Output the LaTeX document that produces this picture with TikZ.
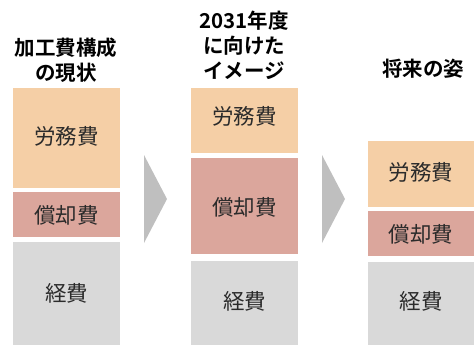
\documentclass[tikz,border=0pt]{standalone}
\usepackage{fontspec}
\newfontfamily\jp{Noto Sans CJK JP}
\newfontfamily\jpb{Noto Sans CJK JP Bold}
\definecolor{labor}{HTML}{F5CFA6}
\definecolor{depr}{HTML}{DBA69C}
\definecolor{misc}{HTML}{D9D9D9}
\definecolor{arrowgray}{HTML}{BFBFBF}
\definecolor{txt}{HTML}{2B2B2B}
\begin{document}
\begin{tikzpicture}[x=1pt,y=-1pt,
  seg/.style={inner sep=0pt, text=txt, font=\jp\fontsize{21.5}{24}\selectfont},
  ttl/.style={align=center, text=black, font=\jpb\fontsize{20.5}{25}\selectfont},
  chev/.style={fill=arrowgray, draw=none}]
\useasboundingbox (0,0) rectangle (474,346);
% column 1
\fill[labor] (13,88) rectangle (120,188);
\fill[depr] (13,192) rectangle (120,237);
\fill[misc] (13,242) rectangle (120,345);
\node[seg] (c1a) at (66.5,136) {労務費};
\node[seg] (c1b) at (66.5,215) {償却費};
\node[seg] (c1c) at (66.5,293) {経費};
% column 2
\fill[labor] (191,88) rectangle (298,153);
\fill[depr] (191,158) rectangle (298,254);
\fill[misc] (191,261) rectangle (298,345);
\node[seg] (c2a) at (244.5,116) {労務費};
\node[seg] (c2b) at (244.5,207) {償却費};
\node[seg] (c2c) at (244.5,301) {経費};
% column 3
\fill[labor] (368,141) rectangle (474,207);
\fill[depr] (368,211) rectangle (474,256);
\fill[misc] (368,262) rectangle (474,345);
\node[seg] (c3a) at (421,172) {労務費};
\node[seg] (c3b) at (421,234) {償却費};
\node[seg] (c3c) at (421,301) {経費};
% chevrons
\fill[chev] (144,155) -- (167,199) -- (144,243) -- cycle;
\fill[chev] (322,155) -- (345,199) -- (322,243) -- cycle;
% titles
\node[ttl] (t1) at (66,60) {加工費構成\\の現状};
\node[ttl] (t2) at (244,45.5) {2031年度\\に向けた\\イメージ};
\node[ttl] (t3) at (423,69) {将来の姿};
\end{tikzpicture}
\end{document}
